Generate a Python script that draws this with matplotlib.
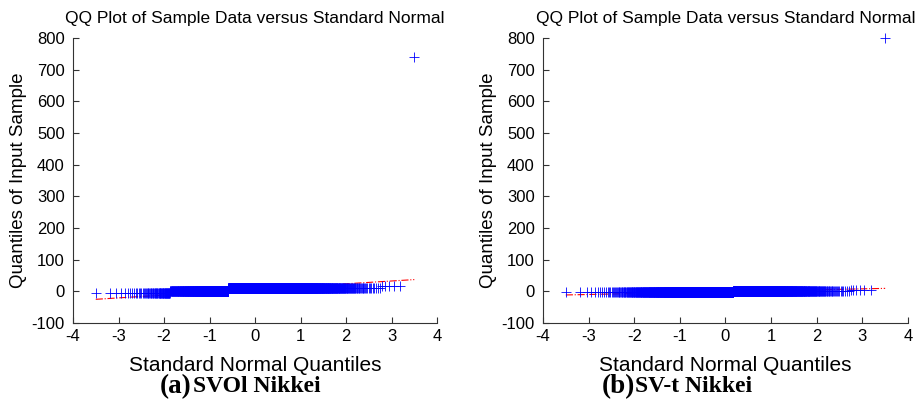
from statistics import NormalDist

import numpy as np
import matplotlib
matplotlib.use("Agg")
import matplotlib.pyplot as plt

# sample values (sorted levels) and how many observations sit at each level
vals_a = [-4.0, 0.0, 9.0, 12.0, 18.0, 741.0]
cnts_a = [66, 532, 842, 704, 5, 1]

vals_b = [-3.0, 1.0, 4.0, 800.0]
cnts_b = [1219, 924, 6, 1]

xticks = [-4, -3, -2, -1, 0, 1, 2, 3, 4]
yticks = [-100, 0, 100, 200, 300, 400, 500, 600, 700, 800]

captions = [("(a)", "SVOl Nikkei"), ("(b)", "SV-t Nikkei")]
cap_x = [0.173, 0.652]   # left edge of each caption, figure fraction

plt.rcParams['font.family'] = ['Liberation Sans', 'DejaVu Sans']
plt.rcParams['axes.unicode_minus'] = False


def qq(ax, vals, cnts):
    y = np.sort(np.repeat(vals, cnts))
    n = len(y)
    nd = NormalDist()
    x = np.array([nd.inv_cdf((i - 0.5) / n) for i in range(1, n + 1)])
    # reference line through the quartiles, like matlab qqplot
    q1, q3 = np.percentile(y, [25, 75])
    x1, x3 = nd.inv_cdf(0.25), nd.inv_cdf(0.75)
    slope = (q3 - q1) / (x3 - x1)
    xl = np.array([x[0], x[-1]])
    ax.plot(xl, q1 + slope * (xl - x1), color='red', ls='-.', lw=0.8, zorder=1)
    ax.plot([x1, x3], [q1, q3], color='red', lw=0.8, zorder=1)
    ax.plot(x, y, '+', color='#0000ff', markersize=6.5, markeredgewidth=0.6,
            zorder=2, clip_on=False)


fig = plt.figure(figsize=(9.23, 4.08), dpi=100)
ax1 = fig.add_axes([0.0791, 0.2083, 0.3944, 0.6985])
ax2 = fig.add_axes([0.5883, 0.2083, 0.3954, 0.6985])

for ax, vals, cnts, cap, cx in zip([ax1, ax2], [vals_a, vals_b], [cnts_a, cnts_b], captions, cap_x):
    qq(ax, vals, cnts)
    ax.set_xlim(-4, 4)
    ax.set_ylim(-100, 800)
    ax.set_xticks(xticks)
    ax.set_yticks(yticks)
    ax.spines['top'].set_visible(False)
    ax.spines['right'].set_visible(False)
    ax.spines['left'].set_color('#333333')
    ax.spines['bottom'].set_color('#333333')
    ax.tick_params(direction='in', length=4, labelsize=12, color='#333333')
    ax.tick_params(axis='y', pad=6)
    ax.tick_params(axis='x', pad=4)
    ax.set_title("QQ Plot of Sample Data versus Standard Normal", fontsize=12.5, pad=11)
    ax.set_xlabel("Standard Normal Quantiles", fontsize=15, labelpad=9)
    ax.set_ylabel("Quantiles of Input Sample", fontsize=13.5, labelpad=3)
    # caption below the axes
    fig.text(cx, 0.053, cap[0], ha='left', va='center', fontsize=19.5,
             family='Liberation Serif', weight='bold')
    fig.text(cx + 0.036, 0.053, cap[1], ha='left', va='center', fontsize=17,
             family='Liberation Serif', weight='bold')

fig.savefig("out.png", dpi=100)
